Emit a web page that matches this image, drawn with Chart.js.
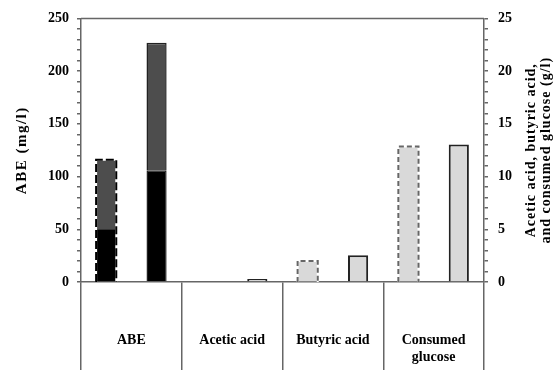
<!DOCTYPE html>
<html>
<head>
<meta charset="utf-8">
<script src="https://cdn.jsdelivr.net/npm/chart.js@4/dist/chart.umd.min.js"></script>
<style>
  html, body { margin: 0; padding: 0; background: #fff; }
  canvas { display: block; }
</style>
</head>
<body>
<canvas id="chart" width="554" height="370"></canvas>
<script>
// categories along the bottom
const categories = ['ABE', 'Acetic acid', 'Butyric acid', ['Consumed', 'glucose']];

// ABE (mg/l), left axis - stacked segments
const abeLowerDashed = [50, null, null, null];
const abeUpperDashed = [66, null, null, null];
const abeLowerSolid = [106, null, null, null];
const abeUpperSolid = [121, null, null, null];

// acids and glucose (g/l), right axis
const acidsDashed = [null, 0, 2.0, 12.85];
const acidsSolid = [null, 0.28, 2.54, 13.03];

const leftTitle = 'ABE (mg/l)';
const rightTitle = ['Acetic acid, butyric acid,', 'and consumed glucose (g/l)'];

const FAMILY = '"Liberation Serif", "Times New Roman", serif';
const FONT = { family: FAMILY, size: 14, weight: 'bold' };
const AXIS = '#666';

// dashed outline around a whole stack, drawn after the bars
const dashedOutline = {
  id: 'dashedOutline',
  afterDatasetsDraw(chart) {
    const ctx = chart.ctx;
    chart.data.datasets.forEach((ds, i) => {
      if (!ds.outline) return;
      const meta = chart.getDatasetMeta(i);
      const zero = chart.scales[meta.yAxisID].getPixelForValue(0);
      meta.data.forEach((el, j) => {
        const v = ds.data[j];
        if (v === null || v <= 0) return;
        const l = el.x - el.width / 2, r = el.x + el.width / 2;
        ctx.save();
        ctx.lineWidth = 2;
        ctx.beginPath();
        ctx.moveTo(l, zero);
        ctx.lineTo(l, el.y);
        ctx.lineTo(r, el.y);
        ctx.lineTo(r, zero);
        ctx.strokeStyle = '#fff';
        ctx.stroke();
        ctx.setLineDash(ds.outline.dash);
        ctx.strokeStyle = ds.outline.color;
        ctx.stroke();
        ctx.restore();
      });
    });
  }
};

// top frame line and both axis titles (both read bottom to top)
const frame = {
  id: 'frame',
  afterDraw(chart) {
    const ctx = chart.ctx;
    const a = chart.chartArea;
    const cy = (a.top + a.bottom) / 2;
    ctx.save();
    ctx.strokeStyle = AXIS;
    ctx.lineWidth = 1.5;
    ctx.beginPath();
    ctx.moveTo(a.left, a.top);
    ctx.lineTo(a.right, a.top);
    ctx.stroke();
    ctx.restore();

    ctx.save();
    ctx.fillStyle = '#000';
    ctx.textAlign = 'center';
    ctx.textBaseline = 'middle';
    ctx.letterSpacing = '1.5px';
    ctx.font = `bold 15px ${FAMILY}`;
    ctx.translate(chart.scales.y.left + 22, cy);
    ctx.rotate(-Math.PI / 2);
    ctx.fillText(leftTitle, 0, 0);
    ctx.restore();

    ctx.save();
    ctx.fillStyle = '#000';
    ctx.textAlign = 'center';
    ctx.textBaseline = 'middle';
    ctx.letterSpacing = '1px';
    ctx.font = `bold 14px ${FAMILY}`;
    ctx.translate(chart.scales.y1.left + 47, cy);
    ctx.rotate(-Math.PI / 2);
    ctx.fillText(rightTitle[0], 0, 0);
    ctx.fillText(rightTitle[1], 0, 15);
    ctx.restore();
  }
};

new Chart(document.getElementById('chart').getContext('2d'), {
  type: 'bar',
  data: {
    labels: categories,
    datasets: [
      { data: abeLowerDashed, stack: 'first', yAxisID: 'y', backgroundColor: '#000', borderWidth: 0 },
      { data: abeUpperDashed, stack: 'first', yAxisID: 'y', backgroundColor: '#4d4d4d', borderWidth: 0,
        outline: { color: '#000', dash: [8, 3] } },
      { data: abeLowerSolid, stack: 'second', yAxisID: 'y', backgroundColor: '#000', borderColor: '#222', borderWidth: 1.5 },
      { data: abeUpperSolid, stack: 'second', yAxisID: 'y', backgroundColor: '#4d4d4d', borderColor: '#222', borderWidth: 1.5 },
      { data: acidsDashed, stack: 'first', yAxisID: 'y1', backgroundColor: '#d9d9d9', borderWidth: 0,
        outline: { color: '#666', dash: [5, 3] } },
      { data: acidsSolid, stack: 'second', yAxisID: 'y1', backgroundColor: '#d9d9d9', borderColor: '#222', borderWidth: 2 }
    ]
  },
  options: {
    responsive: false,
    animation: false,
    categoryPercentage: 1.0,
    barPercentage: 0.4,
    layout: { padding: 0 },
    plugins: { legend: { display: false }, tooltip: { enabled: false } },
    scales: {
      x: {
        stacked: true,
        grid: { offset: true, drawOnChartArea: false, tickLength: 88, color: AXIS, lineWidth: 1.5 },
        border: { color: AXIS, width: 1.5 },
        ticks: { font: FONT, color: '#000', padding: -38, maxRotation: 0, autoSkip: false },
        afterFit: s => { s.height = 88; }
      },
      y: {
        position: 'left',
        stacked: true,
        min: 0,
        max: 250,
        grid: { drawOnChartArea: false, tickLength: 4, color: AXIS, lineWidth: 1.5 },
        border: { color: AXIS, width: 1.5 },
        ticks: { stepSize: 10, autoSkip: false, font: FONT, color: '#000', padding: 8,
          callback: v => (v % 50 === 0 ? v : '') },
        afterFit: s => { s.width = 81; }
      },
      y1: {
        position: 'right',
        stacked: true,
        min: 0,
        max: 25,
        grid: { drawOnChartArea: false, tickLength: 4, color: AXIS, lineWidth: 1.5 },
        border: { color: AXIS, width: 1.5 },
        ticks: { stepSize: 1, autoSkip: false, font: FONT, color: '#000', padding: 10,
          callback: v => (v % 5 === 0 ? v : '') },
        afterFit: s => { s.width = 70; }
      }
    }
  },
  plugins: [dashedOutline, frame]
});
</script>
</body>
</html>
